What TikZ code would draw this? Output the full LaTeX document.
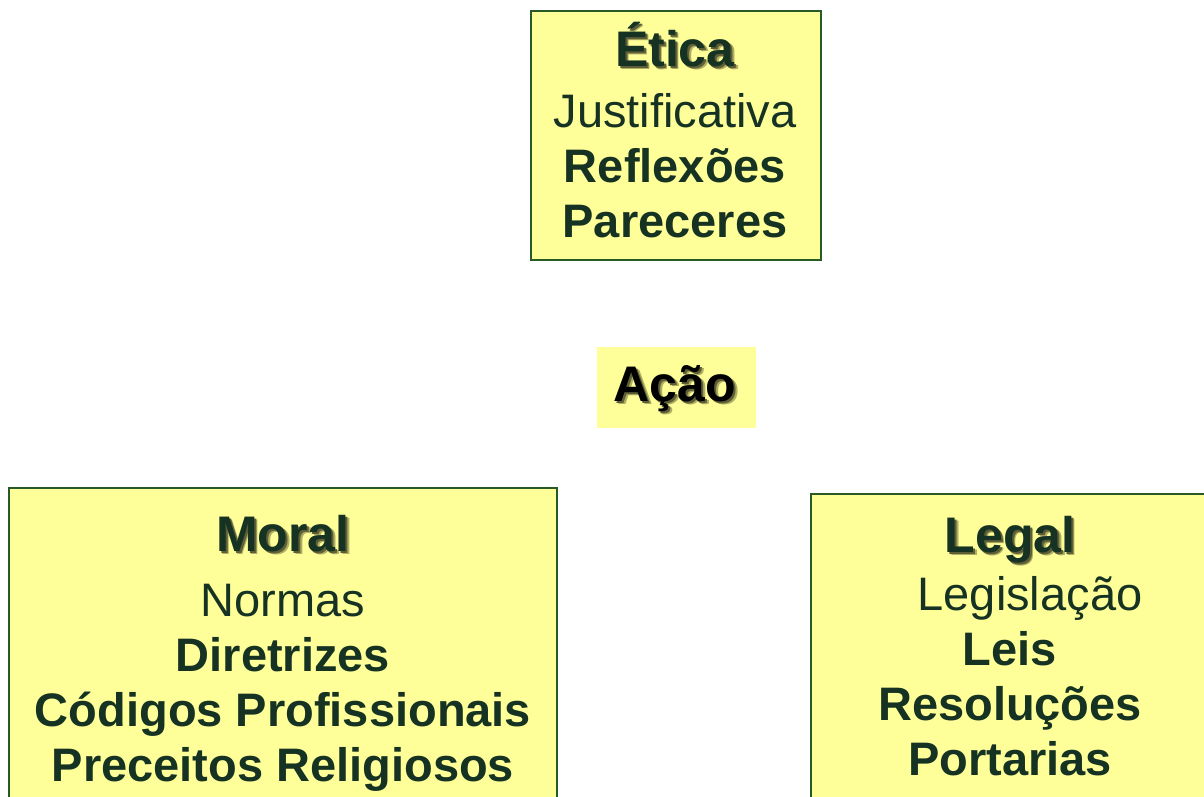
\documentclass[tikz,border=0pt]{standalone}
\usepackage{fontspec}
\setmainfont{Liberation Sans}
\usetikzlibrary{positioning}
\definecolor{amarelo}{RGB}{255,255,153}
\definecolor{verdeborda}{RGB}{40,90,40}
\definecolor{verdetexto}{RGB}{22,50,34}
\definecolor{sombra}{RGB}{95,95,55}
\definecolor{sombraclara}{RGB}{175,175,100}
% titulo com sombra deslocada
\newcommand{\titulo}[1]{{\fontsize{50}{55}\selectfont
  \makebox[0pt][l]{\kern3.5pt\raisebox{-3.5pt}{\textcolor{sombraclara}{\textbf{#1}}}}%
  \makebox[0pt][l]{\kern2pt\raisebox{-2pt}{\textcolor{sombra}{\textbf{#1}}}}%
  \textbf{#1}}}

\begin{document}
\begin{tikzpicture}[
      x=1pt, y=-1pt,
      caixa/.style = {draw=verdeborda, line width=1.5pt, fill=amarelo,
                      inner sep=0pt, anchor=north west},
      texto/.style = {align=center, anchor=base, text=verdetexto,
                      font=\fontsize{47}{55}\selectfont, inner sep=0pt},
    ]
    \clip (0,0) rectangle (1204,796);
    \fill[white] (0,0) rectangle (1204,796);

    \node[caixa, minimum width=290pt, minimum height=249pt] (etica) at (530,10) {};
    \node[caixa, draw=none, minimum width=159pt, minimum height=81pt] (acao) at (596,346) {};
    \node[caixa, minimum width=548pt, minimum height=330pt] (moral) at (8,487) {};
    \node[caixa, minimum width=420pt, minimum height=330pt] (legal) at (810,493) {};

    % anchor=base fica na ultima linha
    \node[texto] (etica-txt) at (675,237)
      {\titulo{Ética}\\[6pt] Justificativa\\ \textbf{Reflexões}\\ \textbf{Pareceres}};
    \node[texto, text=black] (acao-txt) at (675,401) {\titulo{Ação}};
    \node[texto] (moral-txt) at (283,781)
      {\titulo{Moral}\\[10pt] Normas\\ \textbf{Diretrizes}\\ \textbf{Códigos Profissionais}\\ \textbf{Preceitos Religiosos}};
    \node[texto] (legal-txt) at (1010,775)
      {\titulo{Legal}\\[3pt] \hspace*{40pt}Legislação\\ \textbf{Leis}\\ \textbf{Resoluções}\\ \textbf{Portarias}};

  \end{tikzpicture}
\end{document}
